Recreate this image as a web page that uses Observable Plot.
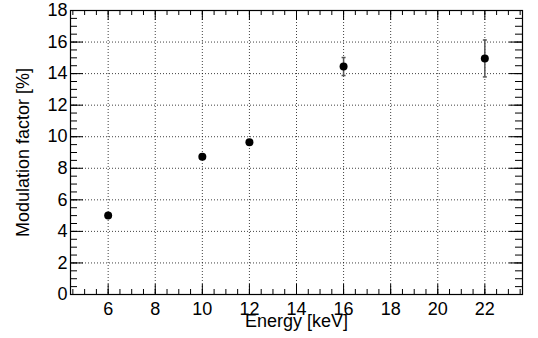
<!DOCTYPE html>
<html>
<head>
<meta charset="utf-8">
<script src="https://cdn.jsdelivr.net/npm/d3@7"></script>
<script src="https://cdn.jsdelivr.net/npm/@observablehq/plot@0.6"></script>
<style>
  html, body { margin: 0; padding: 0; background: #fff; }
  #chart { width: 538px; height: 338px; }
</style>
</head>
<body>
<div id="chart"></div>
<script>
// Data
const energy = [6, 10, 12, 16, 22];           // keV
const modulation = [5.0, 8.73, 9.65, 14.45, 14.96]; // %
const modError = [0.12, 0.15, 0.15, 0.57, 1.17];

// Axis ticks
const xMajor = [6, 8, 10, 12, 14, 16, 18, 20, 22];
const xMinor = d3.range(4.5, 23.6, 0.5);
const yMajor = [0, 2, 4, 6, 8, 10, 12, 14, 16, 18];
const yMinor = d3.range(0, 18.01, 0.5);
const xTitle = "Energy [keV]";
const yTitle = "Modulation factor [%]";

const table = energy.map((e, i) => ({
  x: e, y: modulation[i], lo: modulation[i] - modError[i], hi: modulation[i] + modError[i]
}));

const W = 538, H = 338, mL = 70, mR = 16, mT = 10, mB = 44;
const fw = W - mL - mR, fh = H - mT - mB;
const capSymbol = { draw(ctx, size) { ctx.moveTo(-2, 0); ctx.lineTo(2, 0); } };

const chart = Plot.plot({
  width: W, height: H,
  marginLeft: mL, marginRight: mR, marginTop: mT, marginBottom: mB,
  style: { fontFamily: "'Liberation Sans', Arial, Helvetica, sans-serif", fontSize: "18px", color: "#000", background: "#fff" },
  x: { domain: [4.4, 23.6] },
  y: { domain: [0, 18] },
  marks: [
    Plot.gridX(xMajor, { stroke: "#000", strokeOpacity: 0.75, strokeDasharray: "1,2" }),
    Plot.gridY(yMajor.slice(1, -1), { stroke: "#000", strokeOpacity: 0.75, strokeDasharray: "1,2" }),
    // ticks bottom / top
    Plot.tickX(xMajor, { x: d => d, insetTop: fh - 10, stroke: "#000" }),
    Plot.tickX(xMinor, { x: d => d, insetTop: fh - 5, stroke: "#000" }),
    Plot.tickX(xMajor, { x: d => d, insetBottom: fh - 10, stroke: "#000" }),
    Plot.tickX(xMinor, { x: d => d, insetBottom: fh - 5, stroke: "#000" }),
    // ticks left / right
    Plot.tickY(yMajor, { y: d => d, insetRight: fw - 13, stroke: "#000" }),
    Plot.tickY(yMinor, { y: d => d, insetRight: fw - 7, stroke: "#000" }),
    Plot.tickY(yMajor, { y: d => d, insetLeft: fw - 13, stroke: "#000" }),
    Plot.tickY(yMinor, { y: d => d, insetLeft: fw - 7, stroke: "#000" }),
    Plot.frame({ stroke: "#000", strokeWidth: 1.2 }),
    Plot.axisX({ ticks: xMajor, tickSize: 0, tickPadding: 8, fontSize: 18, label: null }),
    Plot.axisY({ ticks: yMajor, tickSize: 0, tickPadding: 3, fontSize: 18, label: null }),
    // error bars
    Plot.ruleX(table, { x: "x", y1: "lo", y2: "hi", stroke: "#555", strokeWidth: 1.5 }),
    Plot.dot(table, { x: "x", y: "lo", symbol: capSymbol, r: 3, stroke: "#555", strokeWidth: 1.5 }),
    Plot.dot(table, { x: "x", y: "hi", symbol: capSymbol, r: 3, stroke: "#555", strokeWidth: 1.5 }),
    Plot.dot(table, { x: "x", y: "y", r: 4, fill: "#000", stroke: "none" }),
    // titles
    Plot.text([xTitle], { frameAnchor: "bottom", dy: 32, lineAnchor: "bottom", fontSize: 18, fill: "#000" }),
    Plot.text([yTitle], { frameAnchor: "left", dx: -42, rotate: -90, lineAnchor: "bottom", textAnchor: "middle", fontSize: 18, fill: "#000" })
  ]
});
document.getElementById("chart").appendChild(chart);
</script>
</body>
</html>
